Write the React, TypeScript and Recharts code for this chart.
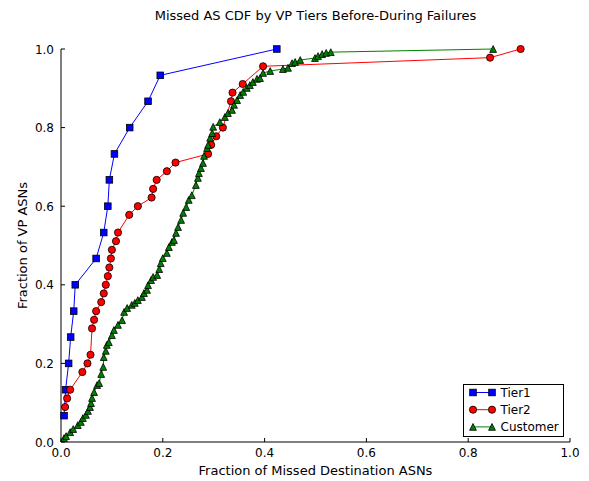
import { LineChart, Line, XAxis, YAxis, Legend } from "recharts";

const FONT = "'DejaVu Sans', sans-serif";

const axisTicks = [0, 0.2, 0.4, 0.6, 0.8, 1.0];

const tier1X = [0.006, 0.009, 0.015, 0.019, 0.025, 0.028, 0.069, 0.084, 0.092, 0.095, 0.105, 0.135, 0.171, 0.195, 0.424];
const tier1Y = [0.067, 0.133, 0.2, 0.267, 0.333, 0.4, 0.467, 0.533, 0.6, 0.667, 0.733, 0.8, 0.867, 0.933, 1.0];

const tier2X = [0.008, 0.012, 0.018, 0.042, 0.052, 0.058, 0.061, 0.065, 0.069, 0.079, 0.084, 0.088, 0.092, 0.095, 0.098, 0.1, 0.108, 0.112, 0.134, 0.151, 0.178, 0.181, 0.188, 0.208, 0.225, 0.289, 0.295, 0.305, 0.318, 0.334, 0.337, 0.357, 0.397, 0.843, 0.903];
const tier2Y = [0.089, 0.111, 0.133, 0.178, 0.2, 0.222, 0.289, 0.311, 0.333, 0.356, 0.378, 0.4, 0.422, 0.444, 0.467, 0.489, 0.511, 0.533, 0.578, 0.6, 0.622, 0.644, 0.667, 0.689, 0.711, 0.733, 0.756, 0.778, 0.8, 0.867, 0.889, 0.911, 0.956, 0.978, 1.0];

const customerX = [
  0.006, 0.01, 0.018, 0.024, 0.033, 0.039, 0.043, 0.049, 0.053, 0.057, 0.059, 0.061, 0.065, 0.071, 0.075,
  0.079, 0.083, 0.084, 0.088, 0.09, 0.094, 0.1, 0.104, 0.112, 0.12, 0.124, 0.13, 0.139, 0.145, 0.151,
  0.159, 0.163, 0.169, 0.171, 0.177, 0.181, 0.189, 0.193, 0.196, 0.2, 0.208, 0.212, 0.218, 0.222, 0.226,
  0.23, 0.236, 0.24, 0.246, 0.251, 0.257, 0.265, 0.269, 0.271, 0.275, 0.279, 0.281, 0.287, 0.289, 0.293,
  0.297, 0.299, 0.312, 0.322, 0.328, 0.336, 0.34, 0.346, 0.352, 0.358, 0.365, 0.371, 0.377, 0.385, 0.391,
  0.397, 0.411, 0.436, 0.446, 0.454, 0.46, 0.47, 0.499, 0.505, 0.513, 0.521, 0.53, 0.849,
];
const customerY = [
  0.01, 0.015, 0.025, 0.033, 0.043, 0.051, 0.061, 0.069, 0.079, 0.089, 0.099, 0.112, 0.127, 0.145, 0.15,
  0.173, 0.191, 0.216, 0.232, 0.247, 0.254, 0.272, 0.285, 0.298, 0.31, 0.331, 0.341, 0.349, 0.354, 0.361,
  0.369, 0.379, 0.387, 0.399, 0.412, 0.42, 0.425, 0.44, 0.455, 0.468, 0.481, 0.496, 0.509, 0.514, 0.532,
  0.547, 0.565, 0.583, 0.598, 0.616, 0.628, 0.654, 0.672, 0.684, 0.697, 0.71, 0.728, 0.748, 0.756, 0.774,
  0.786, 0.802, 0.814, 0.827, 0.837, 0.845, 0.858, 0.87, 0.883, 0.891, 0.901, 0.908, 0.916, 0.924, 0.926,
  0.939, 0.944, 0.949, 0.952, 0.964, 0.967, 0.972, 0.977, 0.982, 0.987, 0.99, 0.992, 1.0,
];

const toRows = (xs: number[], ys: number[]) => xs.map((x, i) => ({ x, y: ys[i] }));

const tier1 = toRows(tier1X, tier1Y);
const tier2 = toRows(tier2X, tier2Y);
const customer = toRows(customerX, customerY);

const BLUE = "#0000ff";
const RED = "#ff0000";
const GREEN = "#008000";

function Square({ cx, cy }: { cx: number; cy: number }) {
  return <rect x={cx - 3.3} y={cy - 3.3} width={6.6} height={6.6} fill={BLUE} stroke="#000" strokeWidth={0.8} />;
}

function Circle({ cx, cy }: { cx: number; cy: number }) {
  return <circle cx={cx} cy={cy} r={3.6} fill={RED} stroke="#000" strokeWidth={0.8} />;
}

function Triangle({ cx, cy }: { cx: number; cy: number }) {
  const s = 3.4;
  return (
    <path
      d={`M${cx},${cy - s}L${cx - s},${cy + s}L${cx + s},${cy + s}Z`}
      fill={GREEN}
      stroke="#000"
      strokeWidth={0.8}
    />
  );
}

// matplotlib-style ticks point into the plot
function BottomTick(props: any) {
  const { x, y, payload } = props;
  return (
    <g>
      <line x1={x} y1={y} x2={x} y2={y - 4} stroke="#000" />
      <text x={x} y={y + 15} textAnchor="middle" fontSize={12} fontFamily={FONT} fill="#000">
        {payload.value.toFixed(1)}
      </text>
    </g>
  );
}

function LeftTick(props: any) {
  const { x, y, payload } = props;
  return (
    <g>
      <line x1={x} y1={y} x2={x + 4} y2={y} stroke="#000" />
      <text x={x - 7} y={y + 4.5} textAnchor="end" fontSize={12} fontFamily={FONT} fill="#000">
        {payload.value.toFixed(1)}
      </text>
    </g>
  );
}

function TopTick(props: any) {
  const { x, y } = props;
  return <line x1={x} y1={y} x2={x} y2={y + 4} stroke="#000" />;
}

function RightTick(props: any) {
  const { x, y } = props;
  return <line x1={x} y1={y} x2={x - 4} y2={y} stroke="#000" />;
}

const legendItems = [
  { name: "Tier1", color: BLUE, Marker: Square },
  { name: "Tier2", color: RED, Marker: Circle },
  { name: "Customer", color: GREEN, Marker: Triangle },
];

function LegendBox() {
  return (
    <svg width={101} height={53} style={{ display: "block" }}>
      <rect x={0.5} y={0.5} width={100} height={52} fill="#fff" stroke="#000" />
      {legendItems.map(({ name, color, Marker }, i) => {
        const cy = 8.5 + i * 17.2;
        return (
          <g key={name}>
            <line x1={10} y1={cy} x2={29} y2={cy} stroke={color} />
            <Marker cx={10} cy={cy} />
            <Marker cx={29} cy={cy} />
            <text x={37.5} y={cy + 4.5} fontSize={12} fontFamily={FONT} fill="#000">
              {name}
            </text>
          </g>
        );
      })}
    </svg>
  );
}

export default function App() {
  return (
    <div style={{ position: "absolute", left: 0, top: 0, width: 589, height: 481, background: "#fff" }}>
      <LineChart width={589} height={481} margin={{ top: 49, right: 19, bottom: 0, left: 0 }}>
        <XAxis
          type="number"
          dataKey="x"
          domain={[0, 1]}
          ticks={axisTicks}
          interval={0}
          height={39}
          tickSize={0}
          tickMargin={0}
          tickLine={false}
          tick={<BottomTick />}
          stroke="#000"
          label={{ value: "Fraction of Missed Destination ASNs", position: "insideBottom", offset: 6, fontSize: 13, fontFamily: FONT, fill: "#000" }}
        />
        <XAxis
          xAxisId="top"
          orientation="top"
          type="number"
          domain={[0, 1]}
          ticks={axisTicks}
          interval={0}
          height={0}
          tickSize={0}
          tickMargin={0}
          tickLine={false}
          tick={<TopTick />}
          stroke="#000"
        />
        <YAxis
          type="number"
          domain={[0, 1]}
          ticks={axisTicks}
          interval={0}
          width={61}
          tickSize={0}
          tickMargin={0}
          tickLine={false}
          tick={<LeftTick />}
          stroke="#000"
          label={{ value: "Fraction of VP ASNs", angle: -90, position: "insideLeft", offset: 22, fontSize: 13, fontFamily: FONT, fill: "#000", style: { textAnchor: "middle" } }}
        />
        <YAxis
          yAxisId="right"
          orientation="right"
          type="number"
          domain={[0, 1]}
          ticks={axisTicks}
          interval={0}
          width={0}
          tickSize={0}
          tickMargin={0}
          tickLine={false}
          tick={<RightTick />}
          stroke="#000"
        />
        <Line
          data={tier1}
          dataKey="y"
          name="Tier1"
          stroke={BLUE}
          strokeWidth={1}
          isAnimationActive={false}
          activeDot={false}
          dot={(p: any) => <Square key={`t1-${p.index}`} cx={p.cx} cy={p.cy} />}
        />
        <Line
          data={tier2}
          dataKey="y"
          name="Tier2"
          stroke={RED}
          strokeWidth={1}
          isAnimationActive={false}
          activeDot={false}
          dot={(p: any) => <Circle key={`t2-${p.index}`} cx={p.cx} cy={p.cy} />}
        />
        <Line
          data={customer}
          dataKey="y"
          name="Customer"
          stroke={GREEN}
          strokeWidth={1}
          isAnimationActive={false}
          activeDot={false}
          dot={(p: any) => <Triangle key={`c-${p.index}`} cx={p.cx} cy={p.cy} />}
        />
        <Legend
          layout="vertical"
          align="center"
          verticalAlign="middle"
          content={<LegendBox />}
          wrapperStyle={{ position: "absolute", left: 463, top: 384, width: 101, height: 53 }}
        />
      </LineChart>
      <div
        style={{
          position: "absolute",
          left: 61,
          top: 8,
          width: 509,
          textAlign: "center",
          fontFamily: FONT,
          fontSize: 13,
          lineHeight: "16px",
          color: "#000",
        }}
      >
        Missed AS CDF by VP Tiers Before-During Failures
      </div>
    </div>
  );
}
